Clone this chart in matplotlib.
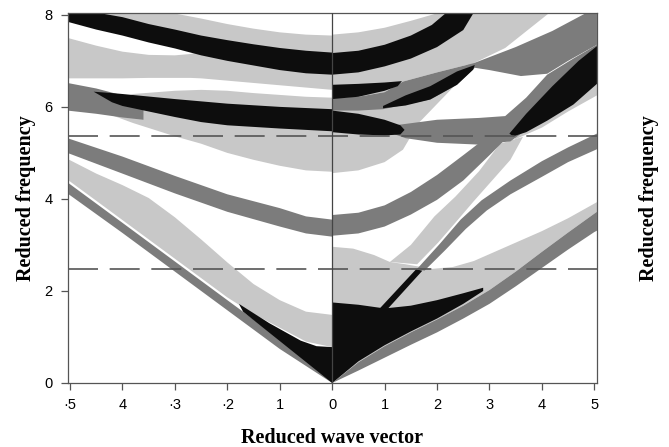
import numpy as np
import matplotlib
matplotlib.use('Agg')
import matplotlib.pyplot as plt

LIGHT = '#c8c8c8'
DARK = '#7c7c7c'
BLACK = '#0d0d0d'

# ---------------- left half (negative wave vector) ----------------
# black top band
b1_x = [-5.05, -4.5, -4, -3.5, -3, -2.5, -2, -1.5, -1, -0.5, 0]
b1_top = [8.05, 8.05, 7.95, 7.8, 7.68, 7.55, 7.45, 7.36, 7.28, 7.22, 7.18]
b1_bot = [7.85, 7.68, 7.55, 7.4, 7.27, 7.12, 7.0, 6.9, 6.8, 6.73, 6.7]
# light above it
ga_x = [-4.45, -3.1, -2.5, -2, -1.5, -1, -0.5, 0]
ga_top = [8.05, 8.05, 7.92, 7.8, 7.7, 7.62, 7.57, 7.55]
ga_bot = [7.9, 7.5, 7.3, 7.2, 7.1, 7.02, 6.96, 6.92]
# light below it
gb_x = [-5.05, -4.5, -4, -3.5, -3, -2.7, -2.5, -1.5, -1, 0]
gb_top = [7.5, 7.33, 7.2, 7.13, 7.12, 7.15, 7.2, 7.05, 6.95, 6.85]
gb_bot = [6.62, 6.62, 6.62, 6.63, 6.63, 6.63, 6.62, 6.52, 6.47, 6.37]
# light round the second black band
gc_x = [-4.4, -3.8, -3, -2.5, -2, -1.5, -1, -0.5, 0]
gc_top = [6.0, 6.28, 6.35, 6.37, 6.35, 6.3, 6.26, 6.22, 6.2]
gc_bot = [5.9, 5.65, 5.36, 5.2, 5.0, 4.85, 4.72, 4.62, 4.59]
# short dark band at left edge
ld2_x = [-5.05, -4.5, -4, -3.6]
ld2_top = [6.52, 6.4, 6.25, 6.05]
ld2_bot = [5.92, 5.85, 5.77, 5.72]
# second black band
b2_x = [-4.55, -4.2, -4, -3, -2.5, -2, -1, 0]
b2_top = [6.33, 6.3, 6.28, 6.17, 6.12, 6.07, 6.0, 5.95]
b2_bot = [6.33, 6.1, 6.02, 5.78, 5.67, 5.6, 5.53, 5.47]
# middle dark band
ld3_x = [-5.05, -4, -3, -2, -1, -0.5, 0]
ld3_top = [5.32, 4.92, 4.5, 4.1, 3.8, 3.62, 3.55]
ld3_bot = [5.0, 4.55, 4.12, 3.72, 3.4, 3.25, 3.18]
# lower light band
lg4_x = [-5.05, -4.5, -4, -3.5, -3, -2.5, -2, -1.5, -1, -0.5, 0]
lg4_top = [4.87, 4.55, 4.3, 4.02, 3.6, 3.12, 2.62, 2.15, 1.8, 1.55, 1.48]
lg4_bot = [4.42, 3.96, 3.54, 3.12, 2.7, 2.28, 1.86, 1.5, 1.2, 0.9, 0.78]
# lowest dark band (light line)
l1_x = [-5.05, -4, -3, -2, -1, 0]
l1_top = [4.36, 3.48, 2.64, 1.8, 0.96, 0.06]
l1_bot = [4.12, 3.26, 2.42, 1.58, 0.74, 0.0]
# black wedge near origin
lb0_x = [-1.78, -1.2, -0.6, -0.3, 0, 0, -1.7]
lb0_y = [1.72, 1.3, 0.92, 0.8, 0.78, 0, 1.55]

# ---------------- right half (positive wave vector) ----------------
rd1_x = [0, 0.5, 1, 1.5, 2, 2.5, 3, 3.5, 4, 4.5, 5, 5.05]
rd1_top = [0, 0.45, 0.8, 1.1, 1.38, 1.68, 2.02, 2.42, 2.85, 3.27, 3.68, 3.72]
rd1_bot = [0, 0.27, 0.55, 0.83, 1.1, 1.4, 1.72, 2.1, 2.5, 2.9, 3.28, 3.31]
rgl_x = [0, 0.4, 0.8, 1.1, 1.4, 1.9, 2.3, 2.7, 3.2, 3.7, 4.0, 4.5, 5.05]
rgl_top = [2.96, 2.92, 2.78, 2.63, 2.58, 2.48, 2.52, 2.65, 2.9, 3.15, 3.3, 3.58, 3.93]
rb0_x = [0, 0.5, 1, 1.5, 2, 2.5, 2.88, 2.88, 2.5, 2, 1.5, 1, 0.5, 0]
rb0_y = [1.75, 1.7, 1.62, 1.68, 1.8, 1.95, 2.07, 2.0, 1.72, 1.4, 1.12, 0.82, 0.47, 0.0]
strip_x = [0.85, 1.6, 1.72, 1.05]
strip_y = [1.55, 2.47, 2.44, 1.6]
rg2_x = [1.1, 1.5, 1.95, 2.35, 2.8, 3.2, 3.64, 3.4, 3.05, 2.7, 2.4, 2.02, 1.62]
rg2_y = [2.63, 3.0, 3.62, 4.05, 4.6, 5.2, 5.35, 4.85, 4.4, 3.95, 3.55, 3.05, 2.58]
rd2_x = [1.62, 2.05, 2.45, 2.85, 3.4, 4.0, 4.5, 5.05, 5.05, 4.5, 4.0, 3.4, 2.95, 2.55, 2.15, 1.76]
rd2_y = [2.48, 3.02, 3.55, 3.97, 4.4, 4.82, 5.12, 5.42, 5.08, 4.8, 4.48, 4.1, 3.75, 3.35, 2.88,
         2.44]
rd3_x = [0, 0.5, 1.0, 1.5, 2.0, 2.5, 2.9, 3.1, 3.35, 3.0, 2.5, 2.0, 1.5, 1.0, 0.5, 0]
rd3_y = [3.65, 3.7, 3.86, 4.15, 4.52, 4.95, 5.3, 5.4, 5.35, 4.95, 4.4, 3.98, 3.66, 3.4, 3.25,
         3.2]
b2r_x = [0, 0.5, 1.0, 1.3, 1.38, 1.3, 1.0, 0.5, 0]
b2r_y = [5.92, 5.85, 5.72, 5.6, 5.5, 5.4, 5.38, 5.4, 5.45]
rg7_x = [0, 0.5, 1.0, 1.35, 1.65, 2.2, 2.75, 2.6, 2.38, 1.87, 1.0, 0.5, 0]
rg7_y = [4.56, 4.62, 4.8, 5.07, 5.65, 6.3, 6.95, 6.95, 6.6, 6.25, 6.0, 5.95, 5.95]
rd56_x = [0, 0.5, 1.0, 1.35, 2.0, 2.7, 3.5, 4.2, 4.86, 5.05, 5.05, 4.5, 4.1, 3.6, 3.0,
          2.72, 2.38, 1.87, 0.97, 0.5, 0]
rd56_y = [6.2, 6.22, 6.32, 6.55, 6.75, 6.95, 7.3, 7.65, 8.05, 8.05, 7.35, 7.0, 6.72, 6.67,
          6.8, 6.85, 6.48, 6.16, 5.95, 5.92, 5.92]
b3r_x = [0, 0.5, 1.0, 1.33, 1.25, 1.0, 0.5, 0]
b3r_y = [6.48, 6.5, 6.53, 6.56, 6.45, 6.35, 6.22, 6.17]
b4r_x = [0.97, 1.4, 1.87, 2.38, 2.72, 2.69, 2.38, 1.87, 1.4, 0.97]
b4r_y = [6.02, 6.25, 6.45, 6.77, 6.91, 6.81, 6.48, 6.16, 6.03, 5.97]
gtr_x = [0, 0.5, 1.0, 1.5, 2.05, 4.15, 3.3, 2.7, 2.0, 1.35, 1.0, 0.5, 0]
gtr_y = [7.57, 7.62, 7.72, 7.87, 8.05, 8.05, 7.28, 6.95, 6.75, 6.55, 6.32, 6.22, 6.2]
b1r_x = [0, 0.5, 1, 1.5, 1.9, 2.18, 2.7, 2.5, 2, 1.5, 1, 0.5, 0]
b1r_y = [7.17, 7.22, 7.35, 7.55, 7.78, 8.05, 8.05, 7.67, 7.3, 7.05, 6.88, 6.75, 6.7]
rd7_x = [1.2, 2.0, 2.8, 3.3, 3.7, 4.1, 4.6, 5.05, 5.05, 4.6, 4.1, 3.7, 3.4, 2.8, 2.0, 1.4, 1.2]
rd7_y = [5.6, 5.72, 5.76, 5.8, 6.2, 6.7, 7.05, 7.35, 6.6, 6.15, 5.75, 5.5, 5.25, 5.18, 5.22,
         5.32, 5.4]
b5r_x = [3.38, 3.7, 4.2, 4.7, 5.05, 5.05, 4.6, 4.1, 3.7, 3.45]
b5r_y = [5.42, 5.85, 6.45, 7.0, 7.32, 6.5, 6.05, 5.7, 5.45, 5.36]
lst_x = [3.5, 4.0, 4.5, 5.05, 5.05, 4.6, 4.1, 3.7, 3.45]
lst_y = [5.3, 5.55, 5.9, 6.25, 6.6, 6.15, 5.75, 5.5, 5.36]

x_ticks = [-5, -4, -3, -2, -1, 0, 1, 2, 3, 4, 5]
x_labels = ['·5', '4', '·3', '·2', '1', '0', '1', '2', '3', '4', '5']
y_ticks = [0, 2, 4, 6, 8]
dash_levels = [5.36, 2.47]


def band(ax, x, top, bot, color):
    # polygon between an upper and a lower edge
    px = list(x) + list(x)[::-1]
    py = list(top) + list(bot)[::-1]
    ax.fill(px, py, color=color, lw=0)


fig = plt.figure(figsize=(6.69, 4.47), dpi=100)
ax = fig.add_axes([0.1016, 0.1432, 0.7907, 0.8277])

# light
band(ax, ga_x, ga_top, ga_bot, LIGHT)
band(ax, gb_x, gb_top, gb_bot, LIGHT)
band(ax, gc_x, gc_top, gc_bot, LIGHT)
band(ax, lg4_x, lg4_top, lg4_bot, LIGHT)
ax.fill(rgl_x + rd1_x[::-1], rgl_top + rd1_top[::-1], color=LIGHT, lw=0)
ax.fill(rg2_x, rg2_y, color=LIGHT, lw=0)
ax.fill(rg7_x, rg7_y, color=LIGHT, lw=0)
ax.fill(gtr_x, gtr_y, color=LIGHT, lw=0)
ax.fill(lst_x, lst_y, color=LIGHT, lw=0)
# dark
band(ax, l1_x, l1_top, l1_bot, DARK)
band(ax, ld2_x, ld2_top, ld2_bot, DARK)
band(ax, ld3_x, ld3_top, ld3_bot, DARK)
band(ax, rd1_x, rd1_top, rd1_bot, DARK)
ax.fill(rd2_x, rd2_y, color=DARK, lw=0)
ax.fill(rd3_x, rd3_y, color=DARK, lw=0)
ax.fill(rd56_x, rd56_y, color=DARK, lw=0)
ax.fill(rd7_x, rd7_y, color=DARK, lw=0)
# black
band(ax, b1_x, b1_top, b1_bot, BLACK)
band(ax, b2_x, b2_top, b2_bot, BLACK)
ax.fill(lb0_x, lb0_y, color=BLACK, lw=0)
ax.fill(rb0_x, rb0_y, color=BLACK, lw=0)
ax.fill(strip_x, strip_y, color=BLACK, lw=0)
ax.fill(b2r_x, b2r_y, color=BLACK, lw=0)
ax.fill(b3r_x, b3r_y, color=BLACK, lw=0)
ax.fill(b4r_x, b4r_y, color=BLACK, lw=0)
ax.fill(b1r_x, b1r_y, color=BLACK, lw=0)
ax.fill(b5r_x, b5r_y, color=BLACK, lw=0)

for lev in dash_levels:
    ax.axhline(lev, color='#555555', lw=1.2, linestyle=(0, (18, 7)), zorder=5)
ax.axvline(0, color='#444444', lw=0.9, zorder=5)

ax.set_xlim(-5.04, 5.05)
ax.set_ylim(0, 8.04)
ax.set_xticks(x_ticks)
ax.set_xticklabels(x_labels)
ax.set_yticks(y_ticks)
ax.tick_params(direction='out', length=5, width=0.9, color='#555555',
               labelsize=10.5, pad=6, right=True, labelright=True)
for lab in ax.get_xticklabels() + ax.get_yticklabels():
    lab.set_family('Liberation Sans')
for sp in ax.spines.values():
    sp.set_color('#555555')
    sp.set_linewidth(0.9)

ax.set_xlabel('Reduced wave vector', family='Liberation Serif', fontweight='bold',
              fontsize=14.5, labelpad=11)
ax.set_ylabel('Reduced frequency', family='Liberation Serif', fontweight='bold',
              fontsize=14.5, labelpad=6)
ax2 = ax.twinx()
ax2.set_ylim(0, 8.04)
ax2.set_yticks([])
for sp in ax2.spines.values():
    sp.set_visible(False)
ax2.set_ylabel('Reduced frequency', family='Liberation Serif', fontweight='bold',
               fontsize=14.5, labelpad=30, rotation=90)

fig.savefig('out.png', dpi=100)
